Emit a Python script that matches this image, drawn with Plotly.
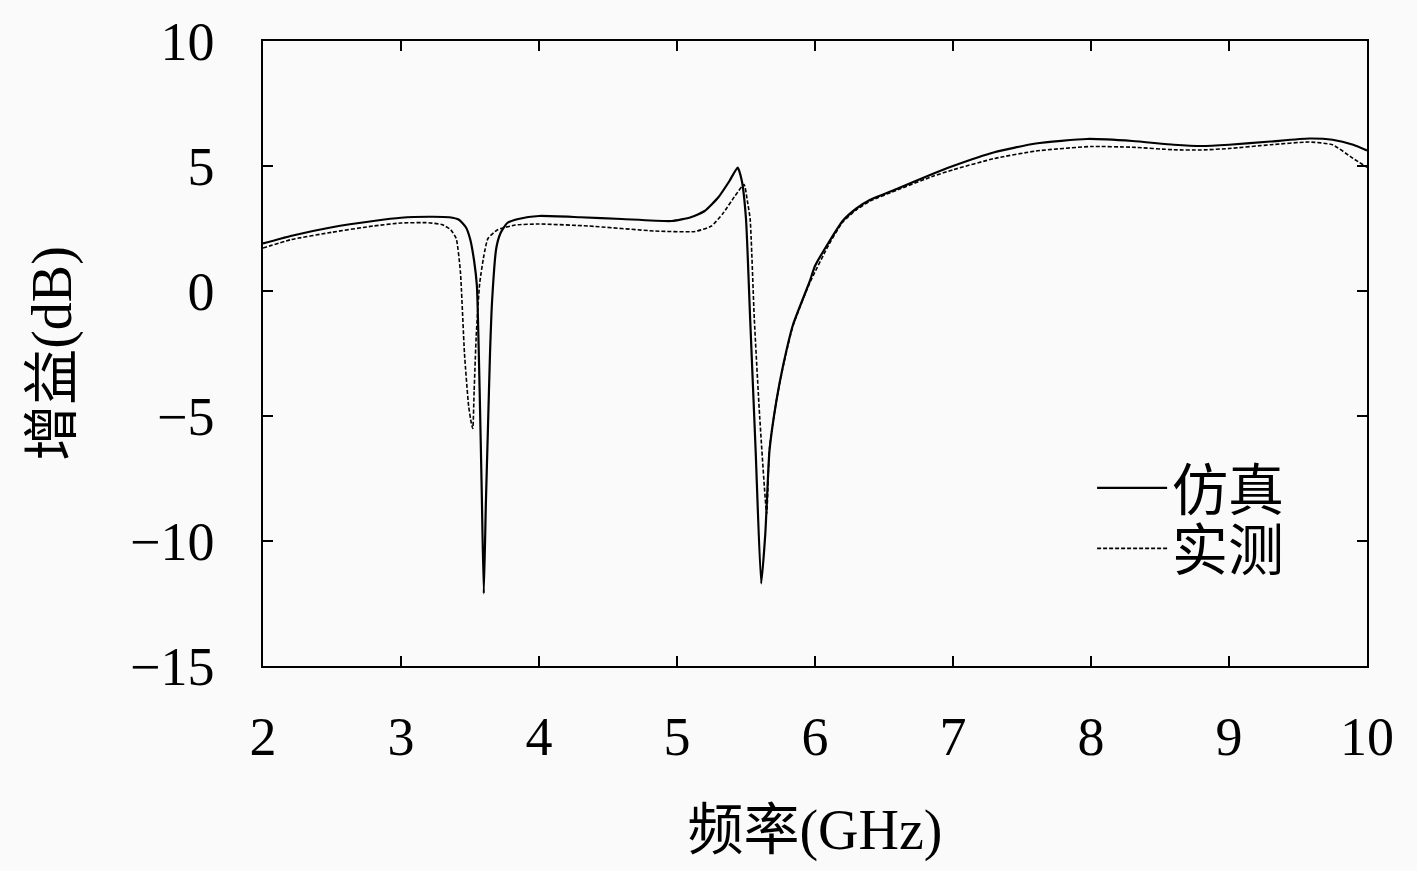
import plotly.graph_objects as go

# Simulated gain (仿真)
sim_freq = [2.0, 2.2, 2.5, 2.8, 3.0, 3.2, 3.35, 3.42, 3.47, 3.5, 3.53, 3.55, 3.57, 3.585,
            3.6, 3.615, 3.63, 3.645, 3.66, 3.69, 3.72, 3.77, 3.85, 4.0, 4.3, 4.6, 4.96,
            5.1, 5.2, 5.3, 5.38, 5.44, 5.47, 5.5, 5.53, 5.57, 5.61, 5.64, 5.67, 5.72,
            5.77, 5.84, 5.96, 6.0, 6.1, 6.2, 6.3, 6.4, 6.6, 6.86, 7.0, 7.3, 7.6, 7.97,
            8.3, 8.6, 8.8, 9.0, 9.3, 9.58, 9.75, 9.9, 10.0]
sim_gain = [1.9, 2.2, 2.55, 2.8, 2.93, 2.97, 2.95, 2.85, 2.55, 2.1, 1.2, 0.2, -4.0, -8.0,
            -12.1, -8.5, -5.5, -2.5, -0.4, 1.7, 2.3, 2.72, 2.88, 3.0, 2.95, 2.88, 2.8,
            2.95, 3.2, 3.75, 4.4, 4.94, 4.4, 2.88, -1.1, -6.4, -11.7, -9.7, -6.4, -4.4,
            -2.95, -1.36, 0.36, 1.0, 1.95, 2.8, 3.3, 3.65, 4.1, 4.7, 5.0, 5.55, 5.9, 6.08,
            6.0, 5.85, 5.8, 5.85, 5.98, 6.1, 6.05, 5.85, 5.62]

# Measured gain (实测)
meas_freq = [2.0, 2.2, 2.5, 2.8, 3.0, 3.2, 3.3, 3.36, 3.4, 3.43, 3.46, 3.49, 3.51, 3.52,
             3.53, 3.545, 3.57, 3.6, 3.63, 3.7, 3.83, 4.0, 4.36, 4.84, 5.13, 5.25, 5.33,
             5.42, 5.486, 5.51, 5.53, 5.56, 5.6, 5.65, 5.67, 5.72, 5.77, 5.84, 5.96, 6.1,
             6.2, 6.3, 6.4, 6.6, 6.86, 7.0, 7.3, 7.6, 8.0, 8.3, 8.6, 8.8, 9.0, 9.3, 9.58,
             9.75, 9.9, 10.0]
meas_gain = [1.72, 2.05, 2.35, 2.6, 2.72, 2.73, 2.65, 2.45, 2.1, 0.8, -2.5, -4.6, -5.3, -5.5,
             -4.0, -1.8, 0.3, 1.4, 2.1, 2.45, 2.64, 2.68, 2.6, 2.4, 2.38, 2.6, 3.08,
             3.8, 4.26, 3.6, 2.88, -1.1, -5.1, -8.9, -6.3, -4.4, -3.0, -1.4, 0.3, 1.85,
             2.75, 3.25, 3.6, 4.05, 4.6, 4.85, 5.3, 5.6, 5.78, 5.75, 5.65, 5.64, 5.7, 5.85, 5.96,
             5.85, 5.3, 4.95]

x_ticks = [2, 3, 4, 5, 6, 7, 8, 9, 10]
y_ticks = [10, 5, 0, -5, -10, -15]

FONT = "Liberation Serif, Noto Sans CJK SC, serif"
BG = "#fafafa"

fig = go.Figure()
fig.add_trace(go.Scatter(x=sim_freq, y=sim_gain, mode="lines", name="仿真",
                         line=dict(color="black", width=2.2, shape="spline", smoothing=0.5),
                         legend="legend"))
fig.add_trace(go.Scatter(x=meas_freq, y=meas_gain, mode="lines", name="实测",
                         line=dict(color="black", width=1.6, dash="4px,2px",
                                   shape="spline", smoothing=0.5),
                         legend="legend2"))

axis_common = dict(showline=True, linecolor="black", linewidth=1.5, mirror="ticks",
                   ticks="inside", ticklen=10, tickwidth=1.5, tickcolor="black",
                   showgrid=False, zeroline=False,
                   tickfont=dict(family=FONT, size=54, color="black"))

fig.update_xaxes(range=[2, 10], tickvals=x_ticks, ticklabelstandoff=22,
                 title=dict(text="频率(GHz)", font=dict(family=FONT, size=56, color="black"),
                            standoff=44),
                 **axis_common)
fig.update_yaxes(range=[-15, 10], tickvals=y_ticks, ticklabelstandoff=36,
                 title=dict(text="增益(dB)", font=dict(family=FONT, size=56, color="black"),
                            standoff=40),
                 **axis_common)

legend_common = dict(xanchor="left", yanchor="middle", bgcolor="rgba(0,0,0,0)",
                     font=dict(family=FONT, size=56, color="black"), itemwidth=70)

fig.update_layout(
    width=1417, height=871,
    margin=dict(l=263, r=50, t=38, b=205),
    paper_bgcolor=BG, plot_bgcolor=BG,
    showlegend=True,
    legend=dict(x=0.751, y=0.285, **legend_common),
    legend2=dict(x=0.751, y=0.188, **legend_common),
)

fig.write_html("out.html", config={"displayModeBar": False},
               post_script="document.body.style.margin='0';document.body.style.background='%s';" % BG)
